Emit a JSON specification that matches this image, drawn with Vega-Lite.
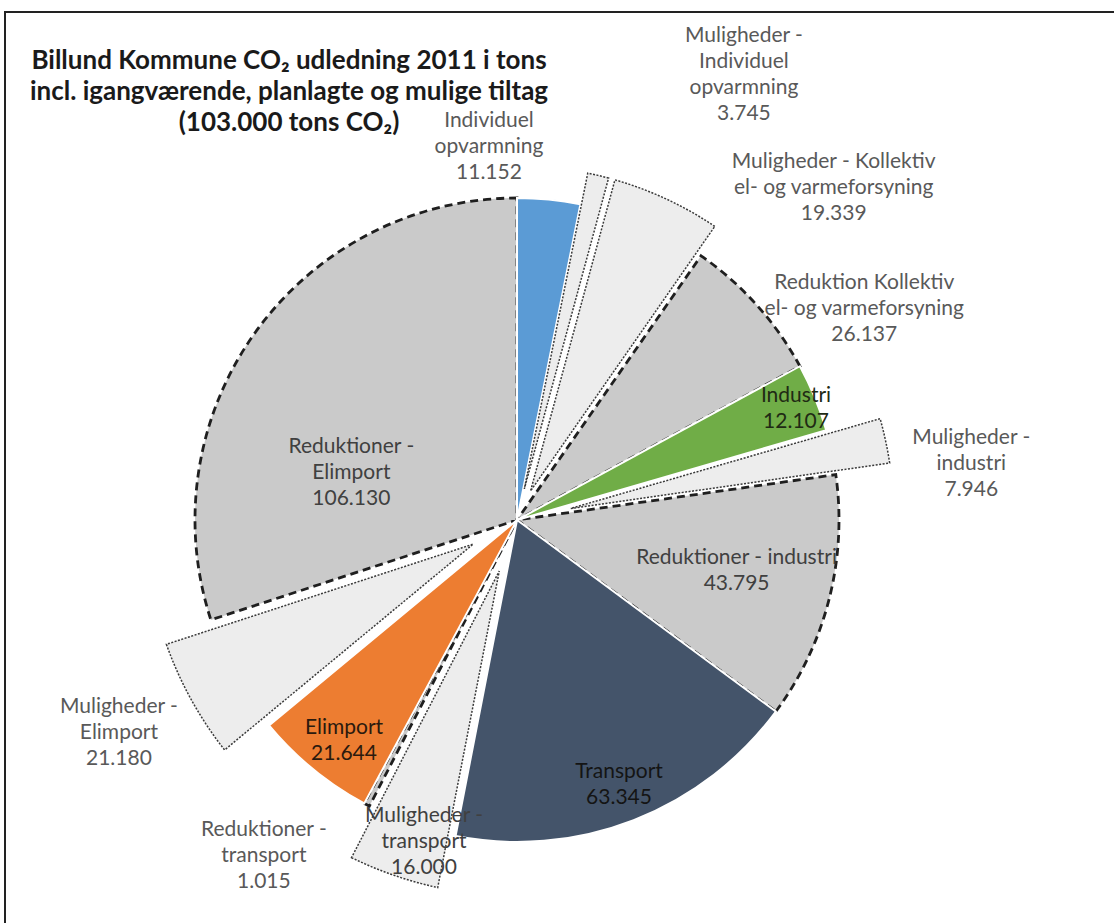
{
  "$schema": "https://vega.github.io/schema/vega-lite/v6.json",
  "width": 1114,
  "height": 923,
  "autosize": {"type": "fit", "contains": "padding"},
  "padding": {"left": 4, "top": 11, "right": 0, "bottom": 0},
  "background": "white",
  "title": {
    "text": ["Billund Kommune CO₂ udledning 2011 i tons", "incl. igangværende, planlagte og mulige tiltag", "(103.000 tons CO₂)"],
    "anchor": "start",
    "frame": "group",
    "align": "center",
    "dx": 285,
    "offset": -125,
    "font": "Lato",
    "fontSize": 26,
    "fontWeight": "bold",
    "color": "#1a1a1a",
    "lineHeight": 31
  },
  "datasets": {
    "co2": [
      {"nr": 1, "navn": "Individuel opvarmning", "type": "Udledning", "tons": 11152, "etiket": "Individuel\nopvarmning\n11.152"},
      {"nr": 2, "navn": "Muligheder - Individuel opvarmning", "type": "Mulighed", "tons": 3745, "etiket": "Muligheder -\nIndividuel\nopvarmning\n3.745"},
      {"nr": 3, "navn": "Muligheder - Kollektiv el- og varmeforsyning", "type": "Mulighed", "tons": 19339, "etiket": "Muligheder - Kollektiv\nel- og varmeforsyning\n19.339"},
      {"nr": 4, "navn": "Reduktion Kollektiv el- og varmeforsyning", "type": "Reduktion", "tons": 26137, "etiket": "Reduktion Kollektiv\nel- og varmeforsyning\n26.137"},
      {"nr": 5, "navn": "Industri", "type": "Udledning", "tons": 12107, "etiket": "Industri\n12.107"},
      {"nr": 6, "navn": "Muligheder - industri", "type": "Mulighed", "tons": 7946, "etiket": "Muligheder -\nindustri\n7.946"},
      {"nr": 7, "navn": "Reduktioner - industri", "type": "Reduktion", "tons": 43795, "etiket": "Reduktioner - industri\n43.795"},
      {"nr": 8, "navn": "Transport", "type": "Udledning", "tons": 63345, "etiket": "Transport\n63.345"},
      {"nr": 9, "navn": "Muligheder - transport", "type": "Mulighed", "tons": 16000, "etiket": "Muligheder -\ntransport\n16.000"},
      {"nr": 10, "navn": "Reduktioner - transport", "type": "Reduktion", "tons": 1015, "etiket": "Reduktioner -\ntransport\n1.015"},
      {"nr": 11, "navn": "Elimport", "type": "Udledning", "tons": 21644, "etiket": "Elimport\n21.644"},
      {"nr": 12, "navn": "Muligheder - Elimport", "type": "Mulighed", "tons": 21180, "etiket": "Muligheder -\nElimport\n21.180"},
      {"nr": 13, "navn": "Reduktioner - Elimport", "type": "Reduktion", "tons": 106130, "etiket": "Reduktioner -\nElimport\n106.130"}
    ]
  },
  "layer": [
    {
      "data": {"values": [{}]},
      "mark": {"type": "rule", "stroke": "#222222", "strokeWidth": 2, "clip": true},
      "encoding": {"y": {"value": 1}}
    },
    {
      "data": {"values": [{}]},
      "mark": {"type": "rule", "stroke": "#222222", "strokeWidth": 2, "clip": true},
      "encoding": {"x": {"value": 1}}
    },
    {
      "data": {"name": "co2"},
      "encoding": {
        "theta": {"field": "tons", "type": "quantitative", "stack": true},
        "order": {"field": "nr", "type": "quantitative"},
        "detail": {"field": "navn", "type": "nominal"}
      },
      "layer": [
        {
          "encoding": {
            "fill": {
              "field": "navn", "type": "nominal", "legend": null,
              "scale": {
                "domain": ["Individuel opvarmning", "Muligheder - Individuel opvarmning", "Muligheder - Kollektiv el- og varmeforsyning", "Reduktion Kollektiv el- og varmeforsyning", "Industri", "Muligheder - industri", "Reduktioner - industri", "Transport", "Muligheder - transport", "Reduktioner - transport", "Elimport", "Muligheder - Elimport", "Reduktioner - Elimport"],
                "range": ["#5B9BD5", "#EDEDED", "#EDEDED", "#CACACA", "#70AD47", "#EDEDED", "#CACACA", "#44546A", "#EDEDED", "#CACACA", "#ED7D31", "#EDEDED", "#CACACA"]
              }
            }
          },
          "layer": [
            {
              "mark": {"type": "arc", "radius": 322, "x": 513, "y": 509, "stroke": "#1f1f1f", "strokeWidth": 2.8, "strokeDash": [8, 5], "clip": true},
              "encoding": {"opacity": {"condition": {"test": "datum.type == 'Reduktion'", "value": 1}, "value": 0}}
            },
            {
              "mark": {"type": "arc", "radius": 322, "x": 513, "y": 509, "stroke": "#ffffff", "strokeWidth": 2, "clip": true},
              "encoding": {"opacity": {"condition": {"test": "datum.type == 'Udledning'", "value": 1}, "value": 0}}
            },
            {
              "mark": {"type": "arc", "radius": 354, "radius2": 32, "padAngle": 0.00605, "x": 513, "y": 509, "stroke": "#3a3a3a", "strokeWidth": 1.5, "strokeDash": [2, 1.5], "clip": true},
              "encoding": {"opacity": {"condition": {"test": "datum.nr == 2", "value": 1}, "value": 0}}
            },
            {
              "mark": {"type": "arc", "radius": 354, "radius2": 32, "padAngle": 0.0311, "x": 513, "y": 509, "stroke": "#3a3a3a", "strokeWidth": 1.5, "strokeDash": [2, 1.5], "clip": true},
              "encoding": {"opacity": {"condition": {"test": "datum.nr == 3", "value": 1}, "value": 0}}
            },
            {
              "mark": {"type": "arc", "radius": 377, "radius2": 55, "padAngle": 0.0206, "x": 513, "y": 509, "stroke": "#3a3a3a", "strokeWidth": 1.5, "strokeDash": [2, 1.5], "clip": true},
              "encoding": {"opacity": {"condition": {"test": "datum.nr == 6", "value": 1}, "value": 0}}
            },
            {
              "mark": {"type": "arc", "radius": 376, "radius2": 54, "padAngle": 0.0407, "x": 513, "y": 509, "stroke": "#3a3a3a", "strokeWidth": 1.5, "strokeDash": [2, 1.5], "clip": true},
              "encoding": {"opacity": {"condition": {"test": "datum.nr == 9", "value": 1}, "value": 0}}
            },
            {
              "mark": {"type": "arc", "radius": 372, "radius2": 50, "padAngle": 0.0503, "x": 513, "y": 509, "stroke": "#3a3a3a", "strokeWidth": 1.5, "strokeDash": [2, 1.5], "clip": true},
              "encoding": {"opacity": {"condition": {"test": "datum.nr == 12", "value": 1}, "value": 0}}
            }
          ]
        },
        {
          "encoding": {"text": {"field": "etiket", "type": "nominal"}},
          "layer": [
            {"mark": {"type": "text", "radius": 376, "thetaOffset": -0.1737, "dy": -24, "x": 513, "y": 509, "fill": "#595959", "clip": true},
             "encoding": {"opacity": {"condition": {"test": "datum.nr == 1", "value": 1}, "value": 0}}},
            {"mark": {"type": "text", "radius": 501, "thetaOffset": 0.2386, "dy": -37, "x": 513, "y": 509, "fill": "#595959", "clip": true},
             "encoding": {"opacity": {"condition": {"test": "datum.nr == 2", "value": 1}, "value": 0}}},
            {"mark": {"type": "text", "radius": 460, "thetaOffset": 0.3226, "dy": -24, "x": 513, "y": 509, "fill": "#595959", "clip": true},
             "encoding": {"opacity": {"condition": {"test": "datum.nr == 3", "value": 1}, "value": 0}}},
            {"mark": {"type": "text", "radius": 407, "thetaOffset": 0.1815, "dy": -25, "x": 513, "y": 509, "fill": "#595959", "clip": true},
             "encoding": {"opacity": {"condition": {"test": "datum.nr == 4", "value": 1}, "value": 0}}},
            {"mark": {"type": "text", "radius": 301, "thetaOffset": 0.0054, "dy": -11, "x": 513, "y": 509, "fill": "#1f2a14", "clip": true},
             "encoding": {"opacity": {"condition": {"test": "datum.nr == 5", "value": 1}, "value": 0}}},
            {"mark": {"type": "text", "radius": 458, "thetaOffset": 0.085, "dy": -24, "x": 513, "y": 509, "fill": "#595959", "clip": true},
             "encoding": {"opacity": {"condition": {"test": "datum.nr == 6", "value": 1}, "value": 0}}},
            {"mark": {"type": "text", "radius": 225, "thetaOffset": -0.0284, "dy": -11, "x": 513, "y": 509, "fill": "#404040", "clip": true},
             "encoding": {"opacity": {"condition": {"test": "datum.nr == 7", "value": 1}, "value": 0}}},
            {"mark": {"type": "text", "radius": 283, "thetaOffset": 0.0023, "dy": -12, "x": 513, "y": 509, "fill": "#141414", "clip": true},
             "encoding": {"opacity": {"condition": {"test": "datum.nr == 8", "value": 1}, "value": 0}}},
            {"mark": {"type": "text", "radius": 334, "thetaOffset": -0.052, "dy": -25, "x": 513, "y": 509, "fill": "#404040", "clip": true},
             "encoding": {"opacity": {"condition": {"test": "datum.nr == 9", "value": 1}, "value": 0}}},
            {"mark": {"type": "text", "radius": 420, "thetaOffset": 0.1616, "dy": -25, "x": 513, "y": 509, "fill": "#595959", "clip": true},
             "encoding": {"opacity": {"condition": {"test": "datum.nr == 10", "value": 1}, "value": 0}}},
            {"mark": {"type": "text", "radius": 279, "thetaOffset": -0.018, "dy": -11, "x": 513, "y": 509, "fill": "#2b1a0e", "clip": true},
             "encoding": {"opacity": {"condition": {"test": "datum.nr == 11", "value": 1}, "value": 0}}},
            {"mark": {"type": "text", "radius": 451, "thetaOffset": 0.0143, "dy": -25, "x": 513, "y": 509, "fill": "#595959", "clip": true},
             "encoding": {"opacity": {"condition": {"test": "datum.nr == 12", "value": 1}, "value": 0}}},
            {"mark": {"type": "text", "radius": 173, "thetaOffset": -0.3353, "dy": -23, "x": 513, "y": 509, "fill": "#404040", "clip": true},
             "encoding": {"opacity": {"condition": {"test": "datum.nr == 13", "value": 1}, "value": 0}}}
          ]
        }
      ]
    }
  ],
  "config": {
    "view": {"stroke": null},
    "text": {"font": "Lato", "fontSize": 21, "lineHeight": 26, "lineBreak": "\n", "align": "center", "baseline": "middle"}
  }
}
